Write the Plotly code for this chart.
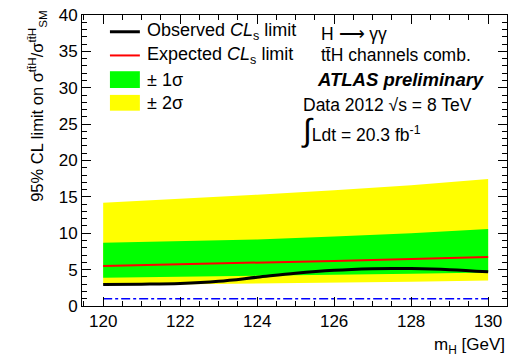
import plotly.graph_objects as go

# ---- data ----
mass = [120, 121, 122, 123, 124, 125, 126, 127, 127.5, 128, 129, 130]
observed = [2.95, 3.0, 3.1, 3.4, 3.95, 4.5, 4.9, 5.12, 5.17, 5.15, 5.0, 4.7]
mass_exp = [120, 122, 124, 126, 128, 130]
expected = [5.5, 5.7, 5.95, 6.2, 6.45, 6.75]
band1_up = [8.7, 8.9, 9.15, 9.55, 10.0, 10.6]
band1_dn = [3.9, 4.0, 4.15, 4.3, 4.45, 4.6]
band2_up = [14.2, 14.7, 15.3, 15.9, 16.6, 17.45]
band2_dn = [2.85, 2.95, 3.05, 3.2, 3.35, 3.5]
sm_mass = [120, 130]
sm_level = [1, 1]

W, H = 514, 356
L, R, T, B = 82, 508, 11, 306
FONT = "Liberation Sans, Arial, sans-serif"


def px(x):
    return (x - L) / (R - L)


def py(y):
    return (B - y) / (B - T)


fig = go.Figure()
fig.add_trace(go.Scatter(x=mass_exp + mass_exp[::-1], y=band2_up + band2_dn[::-1],
                         fill="toself", fillcolor="#ffff00", line=dict(width=0),
                         mode="lines", hoverinfo="skip"))
fig.add_trace(go.Scatter(x=mass_exp + mass_exp[::-1], y=band1_up + band1_dn[::-1],
                         fill="toself", fillcolor="#00ff00", line=dict(width=0),
                         mode="lines", hoverinfo="skip"))
fig.add_trace(go.Scatter(x=mass_exp, y=expected, mode="lines",
                         line=dict(color="#ff0000", width=2)))
fig.add_trace(go.Scatter(x=mass, y=observed, mode="lines",
                         line=dict(color="black", width=3, shape="spline")))
fig.add_trace(go.Scatter(x=sm_mass, y=sm_level, mode="lines",
                         line=dict(color="#0000ff", width=1.5, dash="dashdot")))

shapes = [
    dict(type="line", xref="paper", yref="paper", x0=px(110), x1=px(140), y0=py(28), y1=py(28),
         line=dict(color="black", width=3)),
    dict(type="line", xref="paper", yref="paper", x0=px(110), x1=px(140), y0=py(52), y1=py(52),
         line=dict(color="#ff0000", width=2)),
    dict(type="rect", xref="paper", yref="paper", x0=px(110), x1=px(140), y0=py(85), y1=py(68),
         fillcolor="#00ff00", line=dict(width=0)),
    dict(type="rect", xref="paper", yref="paper", x0=px(110), x1=px(140), y0=py(108), y1=py(92),
         fillcolor="#ffff00", line=dict(width=0)),
]

ann = []


def text(x, y, s, size=18, anchor="left", **kw):
    ann.append(dict(x=px(x), y=py(y), xref="paper", yref="paper", text=s, showarrow=False,
                    xanchor=anchor, yanchor="middle", font=dict(family=FONT, size=size, color="black"),
                    **kw))


text(145, 28, "Observed <i>CL</i><sub>s</sub> limit")
text(145, 52, "Expected <i>CL</i><sub>s</sub> limit")
text(145, 77, "± 1σ")
text(145, 100, "± 2σ")
text(320, 30, "H ⟶ γγ", size=17.5)
text(320, 52, "tt̄H channels comb.", size=17.5)
text(316, 76, "<b><i>ATLAS preliminary</i></b>", size=18.5)
text(302, 102, "Data 2012 √s = 8 TeV", size=17.5)
text(300, 128, "<span style='font-size:32px'>∫</span>Ldt = 20.3 fb<sup>-1</sup>", size=17.5)
text(508, 347, "m<sub>H</sub> [GeV]", anchor="right", size=17)
ann.append(dict(x=px(37), y=py(104), xref="paper", yref="paper",
                text="95% CL limit on σ<sup>tt̄H</sup>/σ<sup>tt̄H</sup><sub>SM</sub>",
                showarrow=False, textangle=-90, xanchor="center", yanchor="middle",
                font=dict(family=FONT, size=16.5, color="black")))

fig.update_layout(
    width=W, height=H, showlegend=False,
    margin=dict(l=L, r=W - R, t=T, b=H - B),
    paper_bgcolor="white", plot_bgcolor="white",
    shapes=shapes, annotations=ann,
    xaxis=dict(range=[119.45, 130.49], tickvals=[120, 122, 124, 126, 128, 130],
               ticks="inside", ticklen=9, tickwidth=1, tickcolor="black",
               showline=True, linecolor="black", linewidth=1, mirror="ticks",
               showgrid=False, zeroline=False,
               tickfont=dict(family=FONT, size=17, color="black"),
               minor=dict(ticks="inside", dtick=0.5, tick0=120, ticklen=5, tickcolor="black", showgrid=False)),
    yaxis=dict(range=[0, 40], tickvals=[0, 5, 10, 15, 20, 25, 30, 35, 40],
               ticks="inside", ticklen=9, tickwidth=1, tickcolor="black",
               showline=True, linecolor="black", linewidth=1, mirror="ticks",
               showgrid=False, zeroline=False,
               tickfont=dict(family=FONT, size=17, color="black"),
               minor=dict(ticks="inside", dtick=1, ticklen=5, tickcolor="black", showgrid=False)),
)

fig.write_html("out.html")
